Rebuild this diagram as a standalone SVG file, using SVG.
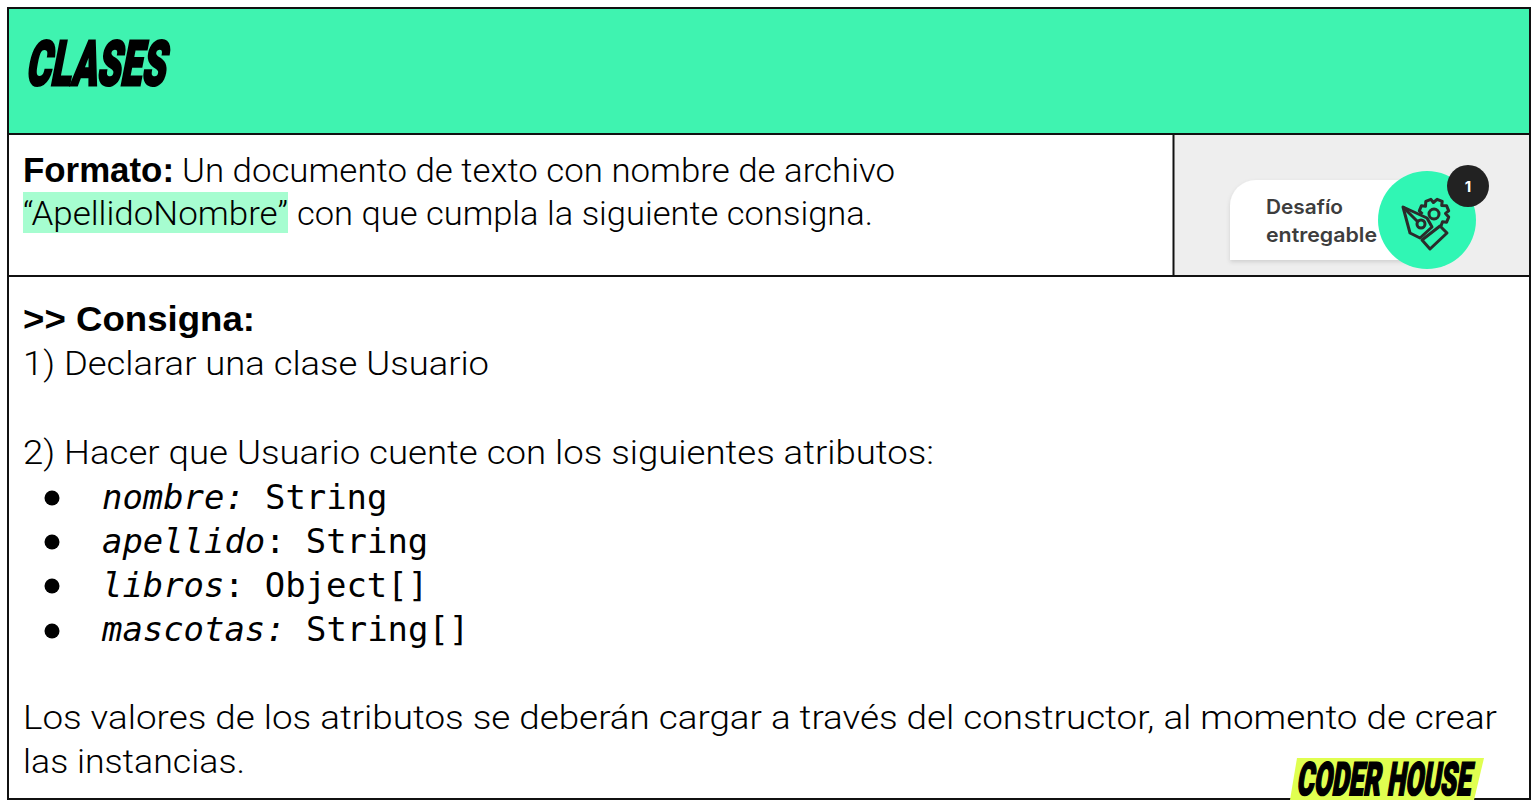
<svg xmlns="http://www.w3.org/2000/svg" width="1540" height="810" viewBox="0 0 1540 810">
<style>
.t{font-family:"Roboto","Liberation Sans",sans-serif;font-size:34px;font-weight:300;fill:#000}
.b{font-family:"Liberation Sans",sans-serif;font-weight:700;font-size:35px}
.m{font-family:"DejaVu Sans Mono",monospace;font-size:33.9px;fill:#000}
.i{font-style:italic}
.l{stroke:#111;stroke-width:2;fill:none}
.ic{stroke:#2b2b2b;stroke-width:3;fill:none;stroke-linejoin:round}
.h{font-family:"Roboto","Liberation Sans",sans-serif;font-weight:900;fill:#000;stroke:#000}
.d{font-family:"Inter","Liberation Sans",sans-serif;font-size:20px;font-weight:600;fill:#3d3d3d}
</style>
<defs>
<filter id="s" x="-10%" y="-10%" width="120%" height="125%"><feDropShadow dx="0" dy="2" stdDeviation="2" flood-color="#000" flood-opacity=".13"/></filter>
</defs>
<rect width="1540" height="810" fill="#fff"/>
<g id="header">
<rect x="8" y="8" width="1522" height="126" fill="#3ff3b0"/>
<text class="h" transform="translate(25 85) skewX(-11) scale(.6 1)" font-size="62" stroke-width="2.8" textLength="232" lengthAdjust="spacingAndGlyphs">CLASES</text>
</g>
<g id="formato">
<rect x="23" y="192" width="265" height="41" fill="#a6fdd0"/>
<text class="t" y="182"><tspan class="b" x="23" textLength="151" lengthAdjust="spacingAndGlyphs">Formato:</tspan><tspan x="182" textLength="713" lengthAdjust="spacingAndGlyphs">Un documento de texto con nombre de archivo</tspan></text>
<text class="t" y="225"><tspan x="23" textLength="265" lengthAdjust="spacingAndGlyphs">“ApellidoNombre”</tspan><tspan x="297" textLength="576" lengthAdjust="spacingAndGlyphs">con que cumpla la siguiente consigna.</tspan></text>
</g>
<g id="badge">
<rect x="1174" y="135" width="356" height="141" fill="#eeeeee"/>
<path d="M1230 260V206a26 26 0 0 1 26-26H1430V260Z" fill="#fff" filter="url(#s)"/>
<text class="d"><tspan x="1266" y="214" textLength="77" lengthAdjust="spacingAndGlyphs">Desafío</tspan><tspan x="1266" y="242" textLength="111" lengthAdjust="spacingAndGlyphs">entregable</tspan></text>
<circle cx="1427" cy="220" r="49" fill="#30f6b4"/>
<circle cx="1468" cy="186" r="21" fill="#222"/>
<text x="1468" y="192" text-anchor="middle" font-family="Inter,'Liberation Sans',sans-serif" font-size="15" font-weight="700" fill="#fff">1</text>
<g class="ic">
<path d="M1422.500 214L1419.300 210.900L1421.400 205.800L1425.500 206.300L1425.800 201.400L1430.900 199.300L1433.400 202.500L1437.100 199.300L1442.200 201.400L1441.700 205.500L1446.600 205.800L1448.700 210.900L1445.500 213.400L1448.700 217.100L1446.600 222.200L1442.500 221.700L1441 226"/>
<circle cx="1434" cy="214" r="5"/>
<path d="M1403 207L1427 218L1432 227L1420 238L1410 233Z" fill="#30f6b4"/>
<path d="M1403 207L1418 222"/><circle cx="1421" cy="224" r="4" fill="#30f6b4"/>
<path d="M1422 240L1440 226L1447 233L1430 249Z" fill="#30f6b4"/>
</g>
</g>
<g id="consigna">
<text class="t b" x="23" y="331" textLength="232" lengthAdjust="spacingAndGlyphs">&gt;&gt; Consigna:</text>
<text class="t" x="23" y="375" textLength="466" lengthAdjust="spacingAndGlyphs">1) Declarar una clase Usuario</text>
<text class="t" x="23" y="464" textLength="911" lengthAdjust="spacingAndGlyphs">2) Hacer que Usuario cuente con los siguientes atributos:</text>
<g fill="#000"><circle cx="52" cy="498" r="7.500"/><circle cx="52" cy="542" r="7.500"/><circle cx="52" cy="586" r="7.500"/><circle cx="52" cy="631" r="7.500"/></g>
<text class="m" y="509"><tspan class="i" x="102">nombre:</tspan><tspan x="265">String</tspan></text>
<text class="m" y="553"><tspan class="i" x="102">apellido</tspan><tspan x="265">: String</tspan></text>
<text class="m" y="597"><tspan class="i" x="102">libros</tspan><tspan x="224">: Object[]</tspan></text>
<text class="m" y="641"><tspan class="i" x="102">mascotas:</tspan><tspan x="306">String[]</tspan></text>
<text class="t" x="23" y="729" textLength="1474" lengthAdjust="spacingAndGlyphs">Los valores de los atributos se deberán cargar a través del constructor, al momento de crear</text>
<text class="t" x="23" y="773" textLength="222" lengthAdjust="spacingAndGlyphs">las instancias.</text>
</g>
<g id="connectors" class="l">
<rect x="8" y="8" width="1522" height="791"/>
<path d="M8 134H1530M8 276H1530M1173.500 134V276"/>
</g>
<g id="logo">
<path d="M1297 758H1484L1474 800H1290Z" fill="#e0ff50"/>
<g transform="translate(1296 795) skewX(-9) scale(.62 1)">
<text class="h" font-size="46" stroke-width="1.800" textLength="135" lengthAdjust="spacingAndGlyphs" x="0">CODER</text>
<text class="h" font-size="46" stroke-width="1.800" textLength="135" lengthAdjust="spacingAndGlyphs" x="146">HOUSE</text>
</g>
</g>
</svg>
